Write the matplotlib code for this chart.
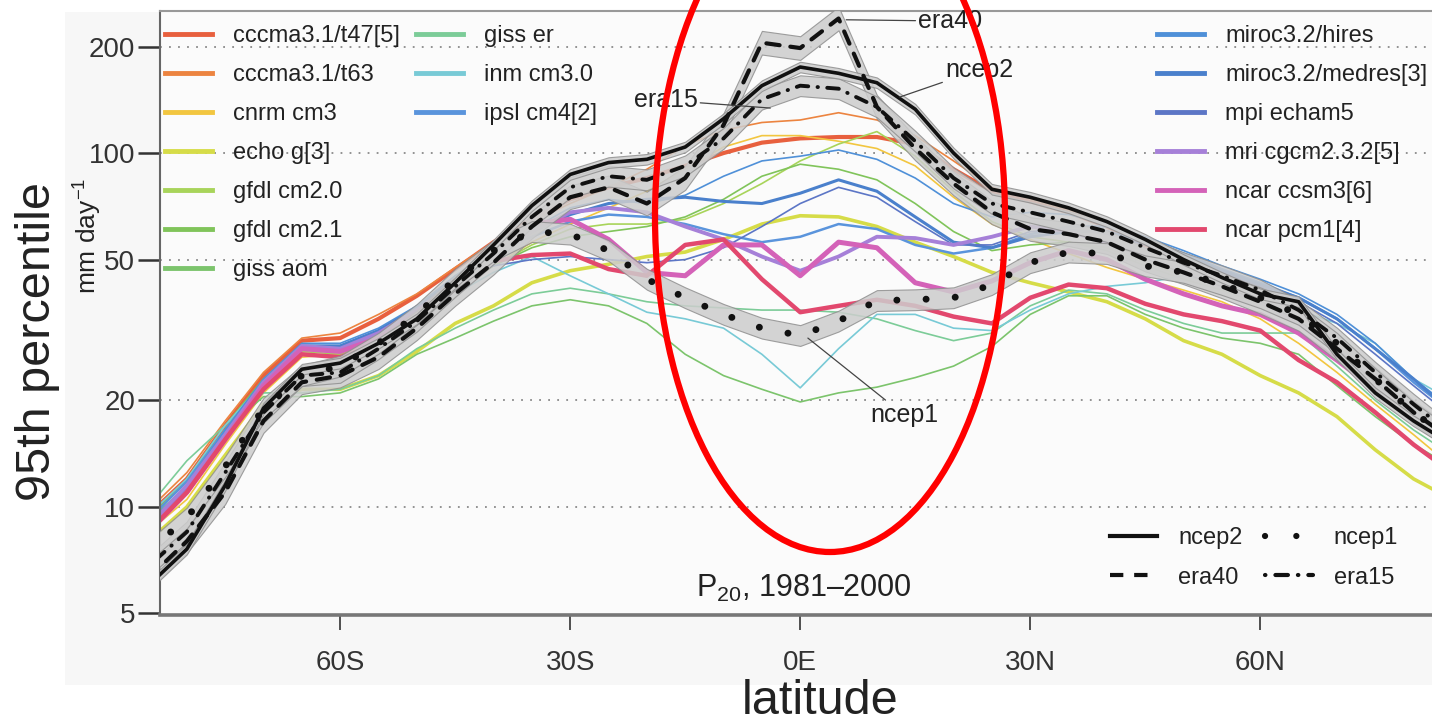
import matplotlib
matplotlib.use('Agg')
import matplotlib.pyplot as plt
from matplotlib import font_manager
from matplotlib.lines import Line2D
from matplotlib.patches import Ellipse, Rectangle
from matplotlib.ticker import NullLocator
import numpy as np

# pick a condensed face for the small text if there is one
names = {f.name for f in font_manager.fontManager.ttflist}
if 'Liberation Sans Narrow' in names:
    narrow, ns = 'Liberation Sans Narrow', 1.18
else:
    narrow, ns = 'Liberation Sans', 1.0

plt.rcParams['font.family'] = ['Liberation Sans', 'DejaVu Sans']
plt.rcParams['mathtext.fontset'] = 'custom'
plt.rcParams['mathtext.rm'] = narrow
plt.rcParams['mathtext.it'] = narrow

# latitude grid (deg, negative = south)
lats = [-85, -80, -75, -70, -65, -60, -55, -50, -45, -40, -35, -30, -25, -20, -15, -10, -5,
        0, 5, 10, 15, 20, 25, 30, 35, 40, 45, 50, 55, 60, 65, 70, 75, 80, 85]

# reanalyses, 95th percentile mm/day
ncep2 = [6.0, 7.6, 11.5, 19.0, 24.5, 25.5, 29.0, 34.0, 43.0, 55.0, 71.0, 87.0, 94.0, 96.0, 104, 125, 155,
         175, 168, 158, 133, 100, 79, 75, 70, 64, 57, 50, 44.5, 40, 38, 27, 21, 17.5, 15.0]
era40 = [6.3, 8.0, 11.0, 17.5, 22.5, 23.5, 26.5, 32.0, 40.0, 49.0, 62.0, 75.0, 80.0, 72.0, 85.0, 120, 205,
         198, 240, 135, 103, 82, 68, 61, 59, 56, 50, 46, 42, 38, 34, 28, 23, 18.5, 15.5]
era15 = [6.8, 8.5, 12.5, 18.5, 23.5, 24.0, 28.0, 33.5, 42.0, 52.0, 66.0, 80.0, 86.0, 84.0, 92.0, 110, 142,
         155, 152, 135, 108, 85, 72, 68, 64, 60, 54, 49, 45, 41, 36, 30, 24, 19.5, 16.0]
ncep1 = [7.5, 9.3, 13.0, 19.0, 23.5, 25.0, 29.0, 35.0, 44.0, 53.0, 60.0, 59.0, 53.0, 44.0, 39.0, 35.0, 32.0,
         30.5, 33.5, 38.3, 38.5, 39.0, 42.5, 49.0, 52.5, 52.0, 48.0, 46.0, 42.5, 39.0, 35.0, 29.0, 23.0, 18.5, 15.5]

# models
cccma_t47 = [9.5, 12.0, 17.0, 23.5, 29.5, 30.0, 34.0, 39.5, 47.0, 56.0, 65.0, 74.0, 80.0, 85.0, 92.0, 100, 107,
             110, 111, 111, 106, 90, 78, 73, 68, 62, 55, 50, 45, 40, 35, 29, 23, 18.5, 15.0]
cccma_t63 = [9.8, 12.5, 17.5, 24.0, 30.0, 31.0, 35.0, 40.0, 47.5, 56.0, 64.0, 72.0, 80.0, 90.0, 105, 116, 122,
             124, 130, 124, 112, 95, 80, 74, 69, 63, 56, 51, 46, 41, 36, 30, 24, 19, 15.5]
cnrm = [8.5, 10.5, 15.0, 21.0, 26.5, 27.0, 30.0, 35.0, 41.0, 48.0, 56.0, 63.0, 70.0, 78.0, 90.0, 104, 112,
        112, 108, 103, 92, 75, 63, 57, 52, 47.5, 44, 41, 38, 34, 29, 24, 19.5, 16, 13]
echo_g = [8.0, 10.0, 14.0, 19.5, 21.5, 21.5, 23.5, 27.5, 33.0, 37.0, 43.0, 46.5, 48.5, 51.0, 52.5, 57.0, 63.0,
          66.5, 66.0, 62.0, 56.0, 51.0, 46.0, 43.0, 40.5, 38.0, 34.0, 29.5, 27.0, 23.5, 21.0, 18.0, 14.5, 12.0, 10.5]
gfdl_20 = [9.0, 11.5, 16.5, 22.5, 27.5, 27.0, 30.0, 35.0, 41.0, 48.0, 55.0, 61.0, 63.0, 63.0, 65.0, 72.0, 82.0,
           95.0, 106, 115, 98, 78, 64, 58, 56, 54, 49, 45, 42, 38, 34, 28, 23, 19, 16]
gfdl_21 = [9.3, 12.0, 17.0, 23.0, 28.0, 27.5, 30.5, 35.5, 41.5, 48.0, 54.0, 58.0, 60.0, 62.0, 66.0, 74.0, 86.0,
           93.0, 90.0, 84.0, 72.0, 60.0, 53.0, 55.0, 56.0, 53.0, 48.0, 44.0, 41.0, 37.5, 34.0, 28.0, 23.0, 19.0, 16.0]
giss_aom = [9.0, 12.0, 16.5, 20.5, 20.5, 21.0, 23.0, 27.0, 30.0, 33.5, 37.0, 38.5, 37.0, 33.0, 27.0, 23.5, 21.5,
            19.8, 21.0, 21.8, 23.2, 25.0, 28.4, 35.0, 39.5, 39.5, 35.0, 32.0, 30.0, 29.0, 27.0, 22.0, 18.0, 15.0, 13.0]
giss_er = [10.0, 13.5, 17.0, 21.0, 21.0, 21.5, 23.5, 28.0, 32.0, 36.0, 40.0, 41.5, 40.0, 38.0, 37.0, 36.5, 36.0,
           36.0, 35.5, 34.0, 31.5, 29.5, 31.0, 37.0, 41.0, 40.0, 36.0, 33.0, 31.0, 31.0, 31.0, 25.0, 20.0, 16.5, 14.0]
inm = [9.5, 12.0, 17.0, 22.5, 27.0, 26.5, 29.0, 34.0, 40.0, 46.0, 51.0, 45.0, 40.0, 35.5, 34.0, 32.0, 27.0,
       21.7, 28.0, 35.0, 35.0, 32.0, 31.5, 36.0, 40.0, 42.0, 43.0, 45.0, 43.0, 40.0, 36.0, 33.0, 29.0, 23.0, 20.0]
ipsl = [9.2, 11.8, 16.5, 22.5, 28.5, 28.5, 31.5, 36.5, 44.0, 52.0, 58.0, 64.0, 67.0, 66.0, 63.0, 59.0, 56.0,
        58.0, 63.0, 61.0, 55.0, 52.0, 54.0, 59.0, 62.0, 62.0, 57.0, 52.0, 47.0, 43.0, 39.0, 34.0, 28.0, 22.5, 18.5]
miroc_hi = [9.0, 11.5, 16.5, 23.0, 29.0, 29.0, 32.0, 37.0, 45.0, 53.0, 61.0, 70.0, 74.0, 72.0, 76.0, 86.0, 95.0,
            98.0, 102, 96.0, 85.0, 72.0, 66.0, 68.0, 67.0, 63.0, 58.0, 53.0, 48.0, 44.0, 40.0, 35.0, 29.0, 23.0, 19.0]
miroc_med = [8.8, 11.2, 16.0, 22.5, 28.5, 28.5, 31.5, 36.5, 44.0, 52.0, 60.0, 67.0, 72.0, 74.0, 75.0, 73.0, 72.0,
             77.0, 84.0, 78.0, 66.0, 56.0, 54.0, 58.0, 60.0, 60.0, 56.0, 51.0, 46.5, 42.5, 39.0, 34.0, 28.0, 23.0, 18.5]
mpi = [8.5, 11.0, 15.5, 22.0, 28.0, 28.0, 31.0, 36.0, 43.0, 48.0, 50.0, 51.0, 50.0, 49.0, 50.0, 54.0, 62.0,
       72.0, 80.0, 75.0, 64.0, 55.0, 55.0, 60.0, 61.0, 59.0, 55.0, 50.0, 46.0, 42.0, 38.0, 33.0, 27.0, 22.0, 18.0]
mri = [8.8, 11.5, 16.0, 22.5, 28.5, 28.0, 31.0, 36.0, 43.0, 51.0, 60.0, 68.0, 70.0, 68.0, 62.0, 57.0, 51.0,
       46.5, 51.0, 58.0, 57.5, 55.0, 58.0, 62.0, 60.0, 56.0, 51.0, 46.0, 42.0, 38.0, 33.0, 28.0, 23.0, 18.5, 15.0]
ccsm3 = [8.5, 11.0, 15.5, 22.0, 28.0, 27.5, 30.0, 35.0, 43.0, 52.0, 63.0, 65.0, 57.0, 46.0, 45.0, 55.0, 55.0,
         45.0, 56.0, 54.0, 43.0, 40.5, 43.5, 49.0, 53.0, 50.0, 44.0, 40.0, 37.0, 35.0, 31.0, 26.0, 21.5, 17.5, 14.5]
pcm1 = [8.5, 11.0, 15.5, 21.5, 27.0, 26.5, 29.0, 34.0, 41.0, 49.5, 51.5, 52.0, 47.0, 45.0, 55.0, 57.0, 44.0,
        35.5, 37.0, 38.5, 37.0, 34.5, 33.0, 39.0, 42.5, 41.5, 37.5, 35.0, 33.5, 31.5, 26.0, 22.5, 18.5, 15.0, 12.5]

# label, data, colour, line width (ensembles drawn thicker)
models_left = [
    ('cccma3.1/t47[5]', cccma_t47, '#e8603e', 3.0),
    ('cccma3.1/t63', cccma_t63, '#ec8440', 1.2),
    ('cnrm cm3', cnrm, '#f2c640', 1.2),
    ('echo g[3]', echo_g, '#d6dc48', 2.6),
    ('gfdl cm2.0', gfdl_20, '#a8d45a', 1.2),
    ('gfdl cm2.1', gfdl_21, '#80c45a', 1.2),
    ('giss aom', giss_aom, '#7cc46c', 1.2),
]
models_mid = [
    ('giss er', giss_er, '#7ccc98', 1.2),
    ('inm cm3.0', inm, '#78cad6', 1.2),
    ('ipsl cm4[2]', ipsl, '#5a94dc', 1.8),
]
models_right = [
    ('miroc3.2/hires', miroc_hi, '#4f90d8', 1.2),
    ('miroc3.2/medres[3]', miroc_med, '#4a80cc', 2.2),
    ('mpi echam5', mpi, '#5c76c6', 1.2),
    ('mri cgcm2.3.2[5]', mri, '#a680d8', 2.8),
    ('ncar ccsm3[6]', ccsm3, '#d462b8', 3.6),
    ('ncar pcm1[4]', pcm1, '#e2486e', 3.2),
]

fig = plt.figure(figsize=(14.32, 7.22), dpi=100)
fig.patches.append(Rectangle((65 / 1432, 1 - 685 / 722), 1, (685 - 12) / 722,
                             transform=fig.transFigure, facecolor='#f7f7f7', edgecolor='none', zorder=-5))
ax = fig.add_axes([160 / 1432, 107 / 722, 1272 / 1432, 604 / 722])
ax.set_zorder(1)
ax.set_facecolor('#fbfbfb')
ax.set_yscale('log')
ax.set_xlim(-83.5, 82.4)
ax.set_ylim(4.95, 252)

for g in [10, 20, 50, 100, 200]:
    ax.axhline(g, color='#8a8a8a', lw=1.3, ls=(0, (1, 4)), zorder=1)

x = np.array(lats)
for label, vals, col, lw in models_left + models_mid + models_right:
    ax.plot(x, vals, color=col, lw=lw, zorder=2, solid_joinstyle='round')

# reanalyses with grey uncertainty bands
rean = [(era40, 1.08, dict(ls=(0, (3.2, 2.6)), lw=3.0)),
        (era15, 1.07, dict(ls=(0, (0.1, 2.4, 3.0, 2.4)), lw=2.8)),
        (ncep1, 1.07, dict(ls=(0, (0.01, 4.2)), lw=5.0)),
        (ncep2, 1.035, dict(ls='-', lw=2.6))]
for vals, f, st in rean:
    v = np.array(vals)
    ax.fill_between(x, v / f, v * f, facecolor='#cdcdcd', edgecolor='#8f8f8f', lw=0.8, alpha=0.85, zorder=3)
for vals, f, st in rean:
    ax.plot(x, vals, color='#111111', dash_capstyle='round', solid_capstyle='round', zorder=4, **st)

# leader labels
lead = dict(arrowstyle='-', color='#444444', lw=0.9, shrinkA=0, shrinkB=0)
tfs = 18 * ns
ax.annotate('era40', xy=(6, 238), xytext=(15.4, 236), fontsize=tfs, family=narrow, color='#222',
            va='center', ha='left', arrowprops=lead, zorder=6)
ax.annotate('ncep2', xy=(13, 144), xytext=(18.9, 172), fontsize=tfs, family=narrow, color='#222',
            va='center', ha='left', arrowprops=lead, zorder=6)
ax.annotate('era15', xy=(-3.9, 134), xytext=(-13.4, 141), fontsize=tfs, family=narrow, color='#222',
            va='center', ha='right', arrowprops=lead, zorder=6)
ax.annotate('ncep1', xy=(1, 30), xytext=(9.1, 18.2), fontsize=tfs, family=narrow, color='#222',
            va='center', ha='left', arrowprops=lead, zorder=6)

ax.text(0.5, 5.9, 'P$_{\\mathregular{20}}$, 1981\u20132000', fontsize=22 * ns, family=narrow,
        color='#222', ha='center', va='center', zorder=6)


# legends
def handles(entries):
    return [Line2D([], [], color=c, lw=3.5) for _, _, c, _ in entries]


lkw = dict(frameon=False, handlelength=2.0, handletextpad=0.9,
           labelspacing=0.72, borderpad=0, borderaxespad=0, loc='upper left',
           prop={'family': narrow, 'size': 17 * ns})
leg1 = ax.legend(handles(models_left), [m[0] for m in models_left],
                 bbox_to_anchor=(5 / 1272, 1 - 14 / 604), **lkw)
ax.add_artist(leg1)
leg2 = ax.legend(handles(models_mid), [m[0] for m in models_mid],
                 bbox_to_anchor=(256 / 1272, 1 - 14 / 604), **lkw)
ax.add_artist(leg2)
leg3 = ax.legend(handles(models_right), [m[0] for m in models_right],
                 bbox_to_anchor=(997 / 1272, 1 - 14 / 604), **lkw)
ax.add_artist(leg3)
for lg in (leg1, leg2, leg3):
    for t in lg.get_texts():
        t.set_color('#222')

rh = [Line2D([], [], color='#111', lw=3.0, ls='-'),
      Line2D([], [], color='#111', lw=3.0, ls=(0, (3.2, 2.6)), dash_capstyle='butt'),
      Line2D([], [], color='#111', lw=4.5, ls=(0, (0.01, 5.0)), dash_capstyle='round'),
      Line2D([], [], color='#111', lw=3.0, ls=(0, (0.1, 2.4, 3.0, 2.4)), dash_capstyle='round')]
lkw4 = dict(lkw, labelspacing=0.75)
leg4 = ax.legend(rh, ['ncep2', 'era40', 'ncep1', 'era15'], ncol=2, columnspacing=0.95,
                 bbox_to_anchor=(950 / 1272, 1 - 516 / 604), **lkw4)
for t in leg4.get_texts():
    t.set_color('#222')

# axes styling
ax.set_xticks([-60, -30, 0, 30, 60])
ax.set_xticklabels(['60S', '30S', '0E', '30N', '60N'])
ax.set_yticks([5, 10, 20, 50, 100, 200])
ax.set_yticklabels(['5', '10', '20', '50', '100', '200'])
ax.yaxis.set_minor_locator(NullLocator())
ax.tick_params(axis='x', direction='out', length=11, width=1.2, pad=14, colors='#333',
               labelsize=20 * ns)
ax.tick_params(axis='y', direction='out', length=16, width=1.8, pad=2, colors='#333',
               labelsize=20 * ns)
for t in ax.get_xticklabels() + ax.get_yticklabels():
    t.set_family(narrow)
ax.spines['right'].set_visible(False)
ax.spines['left'].set_color('#666')
ax.spines['left'].set_linewidth(1.5)
ax.spines['top'].set_color('#999')
ax.spines['top'].set_linewidth(1.5)
ax.spines['bottom'].set_color('#777')
ax.spines['bottom'].set_linewidth(2.6)

fig.text(820 / 1432, 1 - 702 / 722, 'latitude', fontsize=35, color='#222', ha='center', va='center')
fig.text(38 / 1432, 1 - 341 / 722, '95th percentile', fontsize=35, color='#222', ha='center',
         va='center', rotation=90)
fig.text(88 / 1432, 1 - 236 / 722, 'mm day$^{-1}$', fontsize=19, color='#222', ha='center',
         va='center', rotation=90)

# red highlight ellipse drawn over the figure
fig.patches.append(Ellipse((830 / 1432, 1 - 217 / 722), 350 / 1432, 670 / 722, transform=fig.transFigure,
                           fill=False, edgecolor='#ff0000', lw=4.5, zorder=10))

fig.savefig('out.png', dpi=100)
